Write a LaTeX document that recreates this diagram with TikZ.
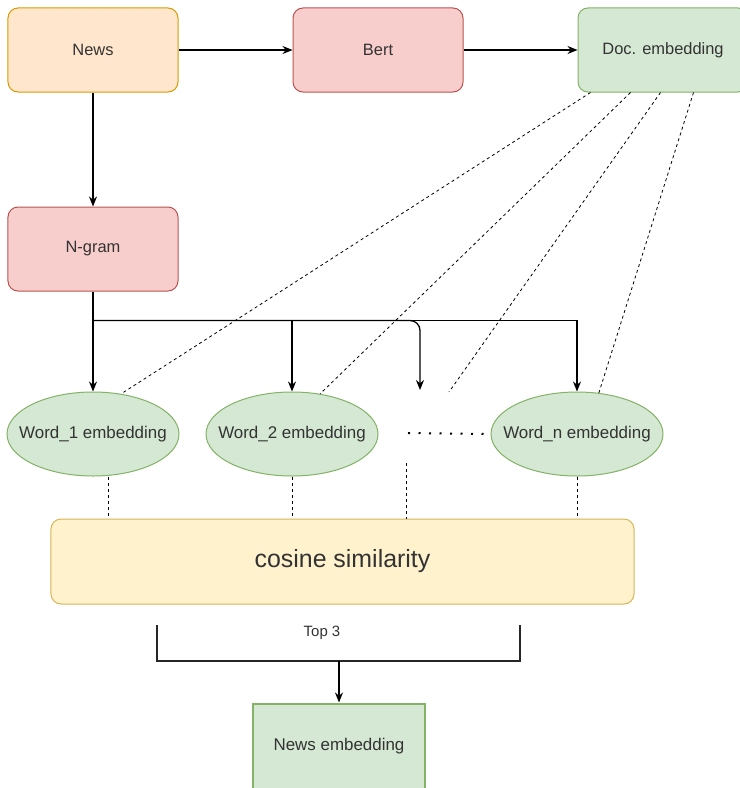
\documentclass[tikz,border=0pt]{standalone}
\usepackage{fontspec}
\setmainfont{Liberation Sans}
\usepackage{tikz}
\usetikzlibrary{arrows,arrows.meta,shapes,positioning}
\definecolor{nworange}{RGB}{255,230,204}
\definecolor{nworangeline}{RGB}{215,155,0}
\definecolor{nwred}{RGB}{248,206,204}
\definecolor{nwredline}{RGB}{184,84,80}
\definecolor{nwgreen}{RGB}{213,232,212}
\definecolor{nwgreenline}{RGB}{130,179,102}
\definecolor{nwyellow}{RGB}{255,242,204}
\definecolor{nwyellowline}{RGB}{214,182,86}
\definecolor{nwtext}{RGB}{51,51,51}
\tikzstyle{flowarrow} = [line width=1.3bp,-{Stealth[length=10bp,width=8bp]},color=black]
\tikzstyle{dashline} = [line width=0.8bp,dash pattern=on 3bp off 3bp]
\tikzstyle{dotline} = [line width=2bp,dash pattern=on 2bp off 8.5bp]
\tikzstyle{stagebox} = [rectangle, rounded corners=10bp, minimum width=170bp, minimum height=84bp, text centered, line width=1bp, text=nwtext, font=\fontsize{16.5}{19}\selectfont]
\tikzstyle{wordnode} = [ellipse, minimum width=172bp, minimum height=84bp, inner xsep=-16bp, inner ysep=0pt, draw=nwgreenline, fill=nwgreen, line width=1bp, text=nwtext, font=\fontsize{17}{20}\selectfont]

\begin{document}
\begin{tikzpicture}[x=1bp,y=1bp,node distance=285bp]
\useasboundingbox (0,0) rectangle (740,-788);
% Top row
\node (news) [stagebox, draw=nworangeline, fill=nworange] at (93,-50) {News};
\node (bert) [stagebox, draw=nwredline, fill=nwred, right of=news] {Bert};
\node (doc) [stagebox, draw=nwgreenline, fill=nwgreen, right of=bert] {Doc. embedding};
\node (ngram) [stagebox, draw=nwredline, fill=nwred, below of=news, yshift=86bp] {N-gram};

\draw[flowarrow] (news) -- (bert);
\draw[flowarrow] (bert) -- (doc);
\draw[flowarrow] (news) -- (ngram);

% Word embeddings
\node (w1) [wordnode, below of=ngram, yshift=100bp] {Word\_1 embedding};
\node (w2) [wordnode, right of=w1, xshift=-86bp] {Word\_2 embedding};
\node (wn) [wordnode, right of=w2] {Word\_n embedding};

\coordinate (fork) at ([yshift=-29bp]ngram.south);
\coordinate (gapT) at (420,-390);
\draw[flowarrow] (ngram) -- (fork) -- (w1);
\draw[flowarrow] (fork) -| (w2);
\draw[flowarrow] (fork) -| (wn);
\draw[flowarrow, rounded corners=10bp] (fork) -| (gapT);

% Links from the document embedding
\coordinate (gapD) at (449,-392);
\draw[dashline] ([xshift=13bp]doc.south west) -- (w1.55);
\draw[dashline] ([xshift=53bp]doc.south west) -- (w2.55);
\draw[dashline] ([xshift=83bp]doc.south west) -- (gapD);
\draw[dashline] ([xshift=116bp]doc.south west) -- (wn.62);

\coordinate (dotsL) at (408,-433);
\draw[dotline] (dotsL) -- (wn.west);

% Similarity
\node (cos) [stagebox, draw=nwyellowline, fill=nwyellow, minimum width=583bp, minimum height=85bp, font=\fontsize{25}{29}\selectfont] at (342.5,-561.5) {cosine similarity};

\coordinate (gapB) at (406,-463);
\draw[dashline] ([xshift=15bp]w1.south) -- ([xshift=15bp]w1.south |- cos.north);
\draw[dashline] (w2.south) -- (w2.south |- cos.north);
\draw[dashline] (gapB) -- (gapB |- cos.north);
\draw[dashline] (wn.south) -- (wn.south |- cos.north);

% Top 3 selection
\coordinate (brL) at (157,-625);
\coordinate (brR) at (520,-625);
\coordinate (brM) at (339,-661);
\draw[line width=2bp, color=black!85] (brL) -- ++(0,-36) -| (brR);
\node (top) [text=nwtext, font=\fontsize{15}{18}\selectfont] at (322,-633) {Top 3};

\node (newsemb) [rectangle, minimum width=172bp, minimum height=85bp, draw=nwgreenline, fill=nwgreen, line width=2bp, text=nwtext, font=\fontsize{17}{20}\selectfont] at (339,-746) {News embedding};
\draw[flowarrow, line width=2bp] (brM) -- (newsemb);
\end{tikzpicture}
\end{document}
